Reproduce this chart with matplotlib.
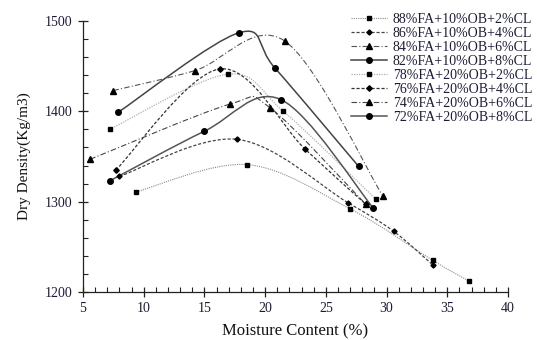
import matplotlib
matplotlib.use("Agg")
import matplotlib.pyplot as plt
import numpy as np
from matplotlib.path import Path
from matplotlib.patches import PathPatch
from matplotlib.lines import Line2D
from matplotlib.ticker import MultipleLocator

plt.rcParams['font.family'] = ['Liberation Serif', 'DejaVu Serif']

# Compaction results: moisture content (%) vs dry density (Kg/m3)
labels = [
    "88%FA+10%OB+2%CL", "86%FA+10%OB+4%CL", "84%FA+10%OB+6%CL", "82%FA+10%OB+8%CL",
    "78%FA+20%OB+2%CL", "76%FA+20%OB+4%CL", "74%FA+20%OB+6%CL", "72%FA+20%OB+8%CL",
]
mc_88 = [9.4, 18.5, 27.0, 33.8, 36.8]
dd_88 = [1311, 1341, 1292, 1235, 1212]
mc_86 = [8.0, 17.7, 26.8, 30.6, 33.8]
dd_86 = [1328, 1369, 1299, 1267, 1230]
mc_84 = [7.5, 14.2, 21.6, 29.7]
dd_84 = [1423, 1445, 1478, 1306]
mc_82 = [7.9, 17.85, 20.8, 27.7]
dd_82 = [1399, 1487, 1448, 1339]
mc_78 = [7.2, 16.9, 21.5, 29.1]
dd_78 = [1380, 1441, 1400, 1303]
mc_76 = [7.7, 16.3, 23.3, 28.3]
dd_76 = [1335, 1447, 1358, 1297]
mc_74 = [5.6, 17.1, 20.4, 28.3]
dd_74 = [1347, 1408, 1404, 1297]
mc_72 = [7.2, 15.0, 21.3, 28.9]
dd_72 = [1323, 1378, 1413, 1293]

xs = [mc_88, mc_86, mc_84, mc_82, mc_78, mc_76, mc_74, mc_72]
ys = [dd_88, dd_86, dd_84, dd_82, dd_78, dd_76, dd_74, dd_72]

styles = [
    dict(ls=(0, (1, 1)), color="#8a8a8a", lw=0.8, marker="s", ms=2.6),
    dict(ls=(0, (2.5, 1.5)), color="#444444", lw=0.9, marker="D", ms=2.6),
    dict(ls=(0, (5, 2, 1, 2)), color="#555555", lw=0.8, marker="^", ms=3.8),
    dict(ls="-", color="#444444", lw=1.1, marker="o", ms=4.0),
    dict(ls=(0, (1, 1)), color="#b0b0b0", lw=0.9, marker="s", ms=3.3),
    dict(ls=(0, (2.5, 1.5)), color="#333333", lw=0.9, marker="D", ms=2.8),
    dict(ls=(0, (5, 2, 1, 2)), color="#444444", lw=0.8, marker="^", ms=3.8),
    dict(ls="-", color="#555555", lw=1.1, marker="o", ms=4.0),
]


def smooth_path(x, y):
    """Cubic Bezier path through the points (spreadsheet-style smoothed line)."""
    p = np.column_stack([x, y]).astype(float)
    n = len(p)
    verts = [p[0]]
    codes = [Path.MOVETO]
    for i in range(n - 1):
        p0 = p[i - 1] if i > 0 else p[i]
        p1, p2 = p[i], p[i + 1]
        p3 = p[i + 2] if i + 2 < n else p[i + 1]
        c1 = p1 + (p2 - p0) / 6.0
        c2 = p2 - (p3 - p1) / 6.0
        verts += [c1, c2, p2]
        codes += [Path.CURVE4] * 3
    return Path(verts, codes)


fig = plt.figure(figsize=(5.37, 3.40), dpi=100)
ax = fig.add_axes([83 / 537, 48 / 340, 425 / 537, 271 / 340])

handles = []
for x, y, st in zip(xs, ys, styles):
    patch = PathPatch(smooth_path(x, y), facecolor="none", edgecolor=st["color"],
                      lw=st["lw"], ls=st["ls"])
    ax.add_patch(patch)
    ax.plot(x, y, ls="none", marker=st["marker"], ms=st["ms"], color="black")
    handles.append(Line2D([], [], ls=st["ls"], color=st["color"], lw=st["lw"],
                          marker=st["marker"], ms=st["ms"], mfc="black", mec="black"))

ax.set_xlim(5, 40)
ax.set_ylim(1200, 1500)
ax.xaxis.set_major_locator(MultipleLocator(5))
ax.xaxis.set_minor_locator(MultipleLocator(1))
ax.yaxis.set_major_locator(MultipleLocator(100))
ax.yaxis.set_minor_locator(MultipleLocator(20))

for s in ("top", "right"):
    ax.spines[s].set_visible(False)
for s in ("left", "bottom"):
    ax.spines[s].set_color("#222222")
    ax.spines[s].set_linewidth(0.9)

ax.tick_params(which="major", direction="inout", length=7, width=0.9, color="#222222",
               labelsize=10, labelcolor="#1c1c3a", pad=4)
ax.tick_params(which="minor", direction="in", length=3.5, width=0.8, color="#222222")

ax.set_xlabel("Moisture Content (%)", fontsize=12, color="#111111", labelpad=6)
ax.set_ylabel("Dry Density(Kg/m3)", fontsize=11, color="#111111", labelpad=10)

fig.legend(handles, labels, loc="upper left", bbox_to_anchor=(345 / 537, 1 - 7 / 340),
           frameon=False, fontsize=10, handlelength=2.6, handletextpad=0.45,
           labelspacing=0.08, borderaxespad=0, labelcolor="#1c1c3a")

fig.savefig("out.png", dpi=100)
